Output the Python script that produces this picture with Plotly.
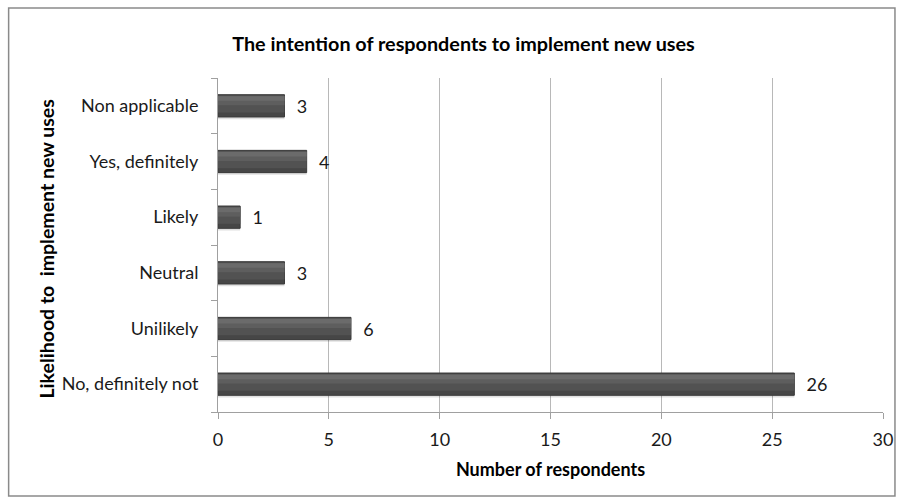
import plotly.graph_objects as go

# Survey answers, listed bottom-to-top as they appear on the axis
categories = ["No, definitely not", "Unilikely", "Neutral", "Likely",
              "Yes, definitely", "Non applicable"]
respondents = [26, 6, 3, 1, 4, 3]
x_ticks = [0, 5, 10, 15, 20, 25, 30]

FONT = "Lato, Carlito, Calibri, sans-serif"
NBSP = "\u00a0"

fig = go.Figure()

# soft shadow under each bar
fig.add_trace(go.Bar(
    y=categories, x=respondents, orientation="h",
    width=0.06, offset=-0.24,
    marker=dict(color="rgba(0,0,0,0.12)", line=dict(width=0)),
    hoverinfo="skip",
))
# main body of each bar
fig.add_trace(go.Bar(
    y=categories, x=respondents, orientation="h",
    width=0.4, offset=-0.2,
    marker=dict(color="#464646", line=dict(color="#3a3a3a", width=1)),
    text=[NBSP * 2 + str(v) for v in respondents], textposition="outside",
    textfont=dict(family=FONT, size=18, color="#1a1a1a"),
    cliponaxis=False, hoverinfo="skip",
))
# shading bands, getting lighter towards the top edge
for w, off, col in [(0.3, -0.12, "#525252"),
                    (0.17, 0.01, "#5e5e5e"),
                    (0.08, 0.09, "#6b6b6b")]:
    fig.add_trace(go.Bar(
        y=categories, x=respondents, orientation="h",
        width=w, offset=off,
        marker=dict(color=col, line=dict(width=0)),
        hoverinfo="skip",
    ))

fig.update_layout(
    width=905, height=504,
    margin=dict(l=218, r=20, t=78, b=92),
    paper_bgcolor="white", plot_bgcolor="white",
    barmode="overlay", showlegend=False,
    font=dict(family=FONT, size=18, color="#1a1a1a"),
    title=dict(text="<b>The intention of respondents to implement new uses</b>",
               x=463.5 / 905, xanchor="center", xref="container",
               y=1 - 44 / 504, yanchor="middle", yref="container",
               font=dict(family=FONT, size=19.8, color="#000")),
    xaxis=dict(range=[0, 30], tickvals=x_ticks, showgrid=True,
               gridcolor="#b8b8b8", gridwidth=1, zeroline=False,
               showline=True, linecolor="#a0a0a0", ticks="outside",
               ticklen=6, tickcolor="#a0a0a0", ticklabelstandoff=5,
               tickfont=dict(family=FONT, size=18, color="#1a1a1a"),
               title=dict(text="<b>Number of respondents</b>", standoff=14,
                          font=dict(family=FONT, size=18, color="#000"))),
    yaxis=dict(type="category", categoryorder="array", categoryarray=categories,
               range=[-0.5, 5.5], showline=True, linecolor="#a0a0a0",
               ticks="outside", ticklen=6, tickcolor="#a0a0a0",
               tickson="boundaries", showgrid=False, ticklabelstandoff=15,
               tickfont=dict(family=FONT, size=18, color="#1a1a1a")),
    shapes=[dict(type="rect", xref="paper", yref="paper",
                 x0=(8 - 218) / 667, x1=(897 - 218) / 667,
                 y0=(412 - 496) / 334, y1=(412 - 8) / 334,
                 line=dict(color="#8a8a8a", width=1.5), layer="below")],
    annotations=[dict(text="<b>Likelihood to" + NBSP + " implement new uses</b>",
                      textangle=-90, xref="paper", yref="paper",
                      x=(45 - 218) / 667, y=(412 - 249) / 334,
                      xanchor="center", yanchor="middle", showarrow=False,
                      font=dict(family=FONT, size=19.5, color="#000"))],
)

fig.write_html("out.html")
